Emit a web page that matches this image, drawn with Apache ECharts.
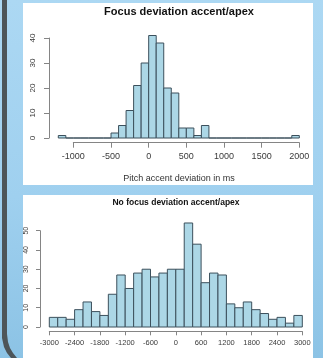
<!DOCTYPE html>
<html>
<head>
<meta charset="utf-8">
<script src="https://cdn.jsdelivr.net/npm/echarts@6/dist/echarts.min.js"></script>
<style>
  html, body { margin: 0; padding: 0; }
  body { width: 323px; height: 358px; background: linear-gradient(180deg, #acd8f3 0%, #9fd0ef 55%, #8cc3e5 100%); overflow: hidden; }
  #chart { width: 323px; height: 358px; }
</style>
</head>
<body>
<div id="chart"></div>
<script>
// focus: 100 ms bins from -1200 to 2000
const focusBinStart = -1200
const focusBinWidth = 100
const focusCounts = [1, 0, 0, 0, 0, 0, 0, 2, 5, 11, 21, 30, 41, 38, 20, 18, 4, 4, 1, 5,
  0, 0, 0, 0, 0, 0, 0, 0, 0, 0, 0, 1]
const focusXTicks = [-1000, 2000, 500]   // min, max, step
const focusYTicks = [0, 40, 10]

// no focus: 200 ms bins from -3000 to 3000
const noFocusBinStart = -3000
const noFocusBinWidth = 200
const noFocusCounts = [5, 5, 4, 9, 13, 8, 6, 17, 27, 20, 28, 30, 26, 28, 30, 30, 54, 43, 23, 28,
  27, 12, 10, 13, 9, 7, 4, 5, 2, 6]
const noFocusXTicks = [-3000, 3000, 600]
const noFocusYTicks = [0, 50, 10]

function toBins(start, width, counts) {
  return counts.map((c, i) => [start + i * width, start + (i + 1) * width, c])
}

function renderBin(params, api) {
  const p0 = api.coord([api.value(0), api.value(2)])
  const p1 = api.coord([api.value(1), 0])
  return {
    type: 'rect',
    shape: { x: p0[0], y: p0[1], width: p1[0] - p0[0], height: p1[1] - p0[1] },
    style: { fill: '#acd7e6', stroke: '#3c505c', lineWidth: 1 }
  }
}

const axisGrey = '#858585'
const labelColor = '#3a3a3a'
const font = 'Liberation Sans, Arial, sans-serif'
const plain = v => String(v)

const chart = echarts.init(document.getElementById('chart'))

const option = {
  animation: false,
  backgroundColor: 'transparent',
  graphic: [
    // dark frame edge on the left
    { type: 'polygon', z: -10, shape: { points: [[2, 0], [7, 0], [7, 334], [8, 342], [10, 348], [13, 353], [17, 358], [11, 358], [7, 353], [4, 347], [2, 338]] }, style: { fill: '#4d5559' } },
    { type: 'rect', z: -10, shape: { x: 23, y: 3, width: 290, height: 182 }, style: { fill: '#ffffff' } },
    { type: 'rect', z: -10, shape: { x: 23, y: 195, width: 290, height: 170 }, style: { fill: '#ffffff' } },
    { type: 'text', z: 5, x: 179, y: 12, style: { text: 'Focus deviation accent/apex', font: 'bold 11px ' + font, fill: '#111', align: 'center', verticalAlign: 'middle' } },
    { type: 'text', z: 5, x: 179, y: 179, style: { text: 'Pitch accent deviation in ms', font: '9px ' + font, fill: '#333', align: 'center', verticalAlign: 'middle' } },
    { type: 'text', z: 5, x: 176, y: 203, style: { text: 'No focus deviation accent/apex', font: 'bold 8.5px ' + font, fill: '#111', align: 'center', verticalAlign: 'middle' } },
    { type: 'text', z: 5, x: 176, y: 361, style: { text: 'Pitch accent deviation in ms', font: '8px ' + font, fill: '#333', align: 'center', verticalAlign: 'middle' } }
  ],
  grid: [
    { left: 58.3, right: 23.7, top: 38, height: 100 },
    { left: 73.3, width: 226, top: 38, height: 100 },
    { left: 49.3, right: 20.7, top: 230.7, height: 96.3 }
  ],
  xAxis: [
    { gridIndex: 0, type: 'value', min: focusBinStart, max: focusXTicks[1], show: false },
    {
      gridIndex: 1, type: 'value', min: focusXTicks[0], max: focusXTicks[1], interval: focusXTicks[2],
      offset: 4.7,
      axisLine: { show: true, onZero: false, lineStyle: { color: axisGrey, width: 1 } },
      axisTick: { length: 5, lineStyle: { color: axisGrey } },
      axisLabel: { margin: 9, color: labelColor, fontSize: 9, fontFamily: font, formatter: plain },
      splitLine: { show: false }
    },
    {
      gridIndex: 2, type: 'value', min: noFocusXTicks[0], max: noFocusXTicks[1], interval: noFocusXTicks[2],
      offset: 4.3,
      axisLine: { show: true, onZero: false, lineStyle: { color: axisGrey, width: 1 } },
      axisTick: { length: 4, lineStyle: { color: axisGrey } },
      axisLabel: { margin: 8, color: labelColor, fontSize: 7.5, fontFamily: font, formatter: plain },
      splitLine: { show: false }
    }
  ],
  yAxis: [
    {
      gridIndex: 0, type: 'value', min: focusYTicks[0], max: focusYTicks[1], interval: focusYTicks[2],
      offset: 9.3,
      axisLine: { show: true, onZero: false, lineStyle: { color: axisGrey, width: 1 } },
      axisTick: { show: true, length: 5, lineStyle: { color: axisGrey } },
      axisLabel: { rotate: 90, margin: 12, color: labelColor, fontSize: 8, fontFamily: font, formatter: plain },
      splitLine: { show: false }
    },
    { gridIndex: 1, type: 'value', show: false },
    {
      gridIndex: 2, type: 'value', min: noFocusYTicks[0], max: noFocusYTicks[1], interval: noFocusYTicks[2],
      offset: 9.3,
      axisLine: { show: true, onZero: false, lineStyle: { color: axisGrey, width: 1 } },
      axisTick: { show: true, length: 4, lineStyle: { color: axisGrey } },
      axisLabel: { rotate: 90, margin: 10, color: labelColor, fontSize: 7, fontFamily: font, formatter: plain },
      splitLine: { show: false }
    }
  ],
  series: [
    {
      type: 'custom', xAxisIndex: 0, yAxisIndex: 0, clip: false,
      renderItem: renderBin,
      encode: { x: [0, 1], y: 2 },
      data: toBins(focusBinStart, focusBinWidth, focusCounts)
    },
    {
      type: 'custom', xAxisIndex: 2, yAxisIndex: 2, clip: false,
      renderItem: renderBin,
      encode: { x: [0, 1], y: 2 },
      data: toBins(noFocusBinStart, noFocusBinWidth, noFocusCounts)
    }
  ]
}

chart.setOption(option)
</script>
</body>
</html>
